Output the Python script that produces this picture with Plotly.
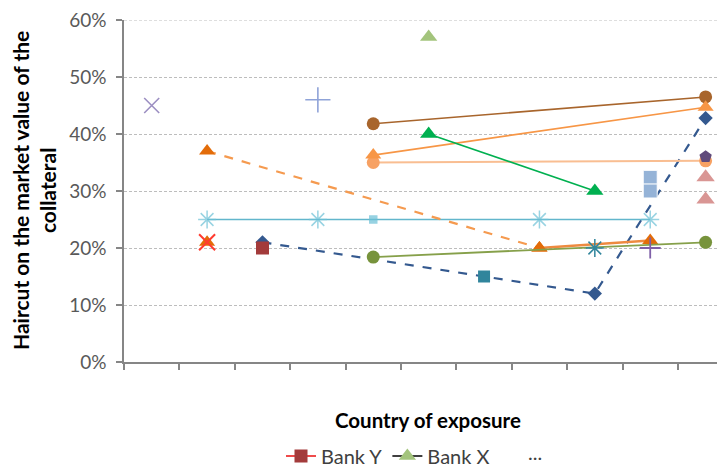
import plotly.graph_objects as go

categories = ["C1", "C2", "C3", "C4", "C5", "C6", "C7", "C8", "C9", "C10", "C11"]
y_ticks = [0, 0.1, 0.2, 0.3, 0.4, 0.5, 0.6]
y_tick_labels = ["0%", "10%", "20%", "30%", "40%", "50%", "60%"]

# series values (haircut, fraction)
purple_x_cat = ["C1"]; purple_x_val = [0.45]
flat_cat = ["C2", "C4", "C5", "C8", "C10"]; flat_val = [0.25, 0.25, 0.25, 0.25, 0.25]
red_x_cat = ["C2"]; red_x_val = [0.21]
orange_single_cat = ["C2"]; orange_single_val = [0.21]
orange_dash_cat = ["C2", "C8"]; orange_dash_val = [0.37, 0.20]
orange_solid_cat = ["C8", "C10"]; orange_solid_val = [0.20, 0.213]
navy_cat = ["C3", "C9", "C11"]; navy_val = [0.21, 0.12, 0.428]
bank_y_cat = ["C3"]; bank_y_val = [0.20]
plus1_cat = ["C4"]; plus1_val = [0.46]
brown_cat = ["C5", "C11"]; brown_val = [0.418, 0.465]
orange_tri_cat = ["C5", "C11"]; orange_tri_val = [0.363, 0.447]
lorange_cat = ["C5", "C11"]; lorange_val = [0.35, 0.353]
olive_cat = ["C5", "C11"]; olive_val = [0.184, 0.21]
bank_x_cat = ["C6"]; bank_x_val = [0.57]
green_cat = ["C6", "C9"]; green_val = [0.40, 0.30]
teal_sq_cat = ["C7"]; teal_sq_val = [0.15]
teal_ast_cat = ["C9"]; teal_ast_val = [0.20]
plus2_cat = ["C10"]; plus2_val = [0.20]
lblue_sq_cat = ["C10", "C10"]; lblue_sq_val = [0.324, 0.30]
pink_cat = ["C11", "C11"]; pink_val = [0.324, 0.285]
pent_cat = ["C11"]; pent_val = [0.36]

fig = go.Figure()

def add(x, y, color, symbol, size=11, mode="markers", dash="solid", lw=1.8,
        mline=None, mlw=0, lcolor=None):
    fig.add_trace(go.Scatter(
        x=x, y=y, mode=mode, showlegend=False, hoverinfo="skip", cliponaxis=False,
        line=dict(color=lcolor or color, width=lw, dash=dash),
        marker=dict(color=color, symbol=symbol, size=size,
                    line=dict(color=mline or color, width=mlw)),
    ))

add(purple_x_cat, purple_x_val, "#9C8FC2", "x-thin-open", size=15, mlw=1.6)
add(navy_cat, navy_val, "#34598F", "diamond", size=11, mode="lines+markers", dash="dash", lw=2.2)
add(flat_cat, flat_val, "#6CC0D6", ["asterisk-open", "asterisk-open", "square", "asterisk-open", "asterisk-open"],
    size=[15, 15, 7, 15, 15], mode="lines+markers", lw=1.6, mlw=1.5, lcolor="#62B6CC")
add(orange_single_cat, orange_single_val, "#E36C09", "triangle-up", size=14)
add(red_x_cat, red_x_val, "#FF3B30", "x-thin-open", size=16, mlw=2)
add(orange_dash_cat, orange_dash_val, "#E36C09", "triangle-up", size=14, mode="lines+markers", dash="dash", lw=2.2,
    lcolor="#F59A4F")
add(orange_solid_cat, orange_solid_val, "#E36C09", "triangle-up", size=14, mode="lines+markers", lw=2.5,
    lcolor="#EE8A40")
add(plus1_cat, plus1_val, "#8FA3D8", "cross-thin-open", size=18, mlw=1.6)
add(brown_cat, brown_val, "#A8652C", "circle", size=13, mode="lines+markers", lw=1.6)
add(lorange_cat, lorange_val, "#F7A163", "circle", size=13, mode="lines+markers", lw=2, lcolor="#F9BE92")
add(orange_tri_cat, orange_tri_val, "#F79646", "triangle-up", size=14, mode="lines+markers", lw=1.6)
add(olive_cat, olive_val, "#77933C", "circle", size=13, mode="lines+markers", lw=1.8, lcolor="#86A04A")
add(green_cat, green_val, "#00B050", "triangle-up", size=15, mode="lines+markers", lw=1.6)
add(teal_sq_cat, teal_sq_val, "#31859C", "square", size=12)
add(teal_ast_cat, teal_ast_val, "#31859C", "asterisk-open", size=15, mlw=1.5)
add(plus2_cat, plus2_val, "#7F60A8", "cross-thin-open", size=15, mlw=1.8)
add(lblue_sq_cat, lblue_sq_val, "#95B3D7", "square", size=14, mline="white", mlw=1)
add(pink_cat, pink_val, "#D99694", "triangle-up", size=16)
add(pent_cat, pent_val, "#604A7B", "pentagon", size=13)

# legend series
fig.add_trace(go.Scatter(x=bank_y_cat, y=bank_y_val, mode="lines+markers", name="Bank Y",
                         line=dict(color="#EF4B4B", width=2),
                         marker=dict(color="#A33B3B", symbol="square", size=13), hoverinfo="skip"))
fig.add_trace(go.Scatter(x=bank_x_cat, y=bank_x_val, mode="lines+markers", name="Bank X",
                         line=dict(color="#404040", width=2),
                         marker=dict(color="#A3C47C", symbol="triangle-up", size=15), hoverinfo="skip"))

FONT = "Lato, 'Liberation Sans', sans-serif"

# page body has an 8px margin: figure is 717x460 so the plot area ends at the window edge
fig.update_layout(
    width=717, height=460,
    margin=dict(l=116, r=0, t=12, b=106, autoexpand=False),
    paper_bgcolor="white", plot_bgcolor="white",
    font=dict(family=FONT, size=13, color="#404040"),
    showlegend=True,
    legend=dict(orientation="h", xref="container", yref="container",
                x=(281 - 8) / 717, y=1 - (456 - 8) / 460, xanchor="left", yanchor="middle",
                font=dict(size=20, color="#404040"), itemwidth=30, bgcolor="rgba(0,0,0,0)",
                tracegroupgap=0),
    xaxis=dict(type="category", categoryorder="array", categoryarray=categories,
               range=[-0.5, 10.35], showticklabels=False, tickson="boundaries",
               ticks="outside", ticklen=6, tickcolor="#868686", tickwidth=1.5,
               showline=True, linecolor="#868686", linewidth=1.5, showgrid=False,
               zeroline=False),
    yaxis=dict(range=[0, 0.6], tickvals=y_ticks, ticktext=y_tick_labels,
               ticks="outside", ticklen=6, tickcolor="#868686", tickwidth=1.5,
               showline=True, linecolor="#868686", linewidth=1.5, ticklabeloverflow="allow",
               ticklabelstandoff=6,
               showgrid=True, gridcolor="#BDBDBD", griddash="3px,2px", gridwidth=1,
               zeroline=False, tickfont=dict(size=19, color="#595959")),
    shapes=[
        dict(type="line", xref="paper", yref="y", x0=0, x1=1, y0=y_ticks[-1], y1=y_ticks[-1],
             line=dict(color="#BDBDBD", width=1, dash="3px,2px"), layer="below"),
    ],
    annotations=[
        dict(text="<b>Haircut on the market value of the<br>collateral</b>", textangle=-90,
             xref="paper", yref="paper", x=(34 - 124) / 601, y=0.5, xanchor="center", yanchor="middle",
             showarrow=False, font=dict(size=21, color="black", family=FONT)),
        dict(text="<b>Country of exposure</b>", xref="paper", yref="paper",
             x=(428 - 124) / 601, y=(361.7 - 420) / 341.7, xanchor="center", yanchor="middle",
             showarrow=False, font=dict(size=20.5, color="black", family=FONT)),
        dict(text="...", xref="paper", yref="paper",
             x=(535 - 124) / 601, y=(361.7 - 466) / 341.7, xanchor="center", yanchor="bottom",
             showarrow=False, font=dict(size=20, color="#404040", family=FONT)),
    ],
)

fig.write_html("out.html")
